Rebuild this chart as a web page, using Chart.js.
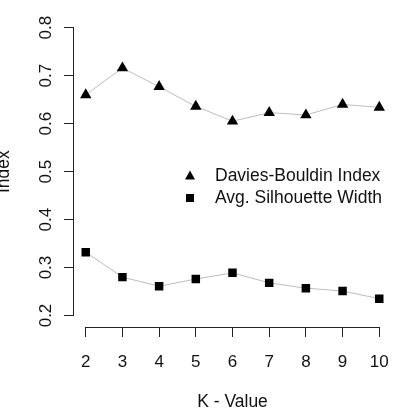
<!DOCTYPE html>
<html lang="en">
<head>
    <meta charset="UTF-8">
    <title>K - Value</title>
    <script src="https://cdn.jsdelivr.net/npm/chart.js@4.4.0/dist/chart.umd.min.js"></script>
    <style>
        html, body { margin: 0; padding: 0; background: #fff; }
        #wrap { width: 412px; height: 408px; }
    </style>
</head>
<body>
    <div id="wrap"><canvas id="myChart" width="412" height="408"></canvas></div>
    <script>
        // values
        var kValues = [2, 3, 4, 5, 6, 7, 8, 9, 10];
        var dbIndex = [0.660, 0.716, 0.677, 0.636, 0.605, 0.623, 0.618, 0.640, 0.634];
        var silhouette = [0.332, 0.280, 0.261, 0.276, 0.289, 0.268, 0.257, 0.251, 0.235];
        var xTicks = [2, 3, 4, 5, 6, 7, 8, 9, 10];
        var yTicks = [0.2, 0.3, 0.4, 0.5, 0.6, 0.7, 0.8];
        var seriesLabels = ['Davies-Bouldin Index', 'Avg. Silhouette Width'];

        var fontFamily = '"Liberation Sans", Arial, Helvetica, sans-serif';

        function toPoints(ys) {
            return kValues.map((k, i) => ({ x: k, y: ys[i] }));
        }

        // R style axes: line only between first and last tick
        var axisLines = {
            id: 'axisLines',
            afterDraw(chart) {
                var ctx = chart.ctx;
                var xs = chart.scales.x, ys = chart.scales.y;
                var area = chart.chartArea;
                ctx.save();
                ctx.strokeStyle = '#222';
                ctx.lineWidth = 1;
                ctx.beginPath();
                var lx = Math.round(area.left) - 0.5;
                ctx.moveTo(lx, ys.getPixelForValue(yTicks[0]));
                ctx.lineTo(lx, ys.getPixelForValue(yTicks[yTicks.length - 1]));
                var by = Math.round(area.bottom) + 0.5;
                ctx.moveTo(xs.getPixelForValue(xTicks[0]), by);
                ctx.lineTo(xs.getPixelForValue(xTicks[xTicks.length - 1]), by);
                ctx.stroke();
                ctx.restore();
            }
        };

        // legend inside the plot, like R's legend()
        var innerLegend = {
            id: 'innerLegend',
            afterDraw(chart) {
                var ctx = chart.ctx;
                var mx = 190, tx = 215, rows = [176, 198];
                ctx.save();
                ctx.fillStyle = '#000';
                // triangle
                ctx.beginPath();
                ctx.moveTo(mx, rows[0] - 5.5);
                ctx.lineTo(mx + 5, rows[0] + 3.5);
                ctx.lineTo(mx - 5, rows[0] + 3.5);
                ctx.closePath();
                ctx.fill();
                // square
                ctx.fillRect(mx - 4, rows[1] - 4, 8, 8);
                ctx.font = '17.5px ' + fontFamily;
                ctx.fillStyle = '#111';
                ctx.textBaseline = 'middle';
                ctx.fillText(seriesLabels[0], tx, rows[0]);
                ctx.fillText(seriesLabels[1], tx, rows[1]);
                ctx.restore();
            }
        };

        var ctx = document.getElementById('myChart').getContext('2d');
        var lineChart = new Chart(ctx, {
            type: 'line',
            data: {
                datasets: [{
                    label: seriesLabels[0],
                    data: toPoints(dbIndex),
                    borderColor: '#bdbdbd',
                    borderWidth: 1,
                    pointStyle: 'triangle',
                    pointRadius: 6.6,
                    pointBackgroundColor: '#000',
                    pointBorderColor: '#000',
                    pointBorderWidth: 0,
                    tension: 0
                }, {
                    label: seriesLabels[1],
                    data: toPoints(silhouette),
                    borderColor: '#bdbdbd',
                    borderWidth: 1,
                    pointStyle: 'rect',
                    pointRadius: 6,
                    pointBackgroundColor: '#000',
                    pointBorderColor: '#000',
                    pointBorderWidth: 0,
                    tension: 0
                }]
            },
            options: {
                responsive: false,
                animation: false,
                devicePixelRatio: 1,
                layout: { padding: { top: 11, right: 21, left: 0, bottom: 0 } },
                plugins: {
                    legend: { display: false },
                    tooltip: { enabled: false }
                },
                scales: {
                    x: {
                        type: 'linear',
                        min: 1.68,
                        max: 10.32,
                        afterBuildTicks: s => { s.ticks = xTicks.map(v => ({ value: v })); },
                        afterFit: s => { s.height = 81; },
                        border: { display: false },
                        grid: { drawOnChartArea: false, drawTicks: true, tickLength: 10, color: '#222' },
                        ticks: {
                            padding: 15,
                            color: '#111',
                            maxRotation: 0,
                            autoSkip: false,
                            font: { family: fontFamily, size: 17 },
                            callback: v => String(v)
                        },
                        title: {
                            display: true,
                            text: 'K - Value',
                            color: '#111',
                            font: { family: fontFamily, size: 17.5, lineHeight: 1 },
                            padding: { top: 0, bottom: -2.5 }
                        }
                    },
                    y: {
                        type: 'linear',
                        min: 0.176,
                        max: 0.824,
                        afterBuildTicks: s => { s.ticks = yTicks.map(v => ({ value: v })); },
                        afterFit: s => { s.width = 74; },
                        border: { display: false },
                        grid: { drawOnChartArea: false, drawTicks: true, tickLength: 10, color: '#222' },
                        ticks: {
                            padding: 6,
                            color: '#111',
                            minRotation: 90,
                            maxRotation: 90,
                            crossAlign: 'center',
                            autoSkip: false,
                            font: { family: fontFamily, size: 17 },
                            callback: v => v.toFixed(1)
                        },
                        title: {
                            display: true,
                            text: 'Index',
                            color: '#111',
                            font: { family: fontFamily, size: 17.5, lineHeight: 1 },
                            padding: { top: -4.5, bottom: 0 }
                        }
                    }
                }
            },
            plugins: [axisLines, innerLegend]
        });
    </script>
</body>
</html>
